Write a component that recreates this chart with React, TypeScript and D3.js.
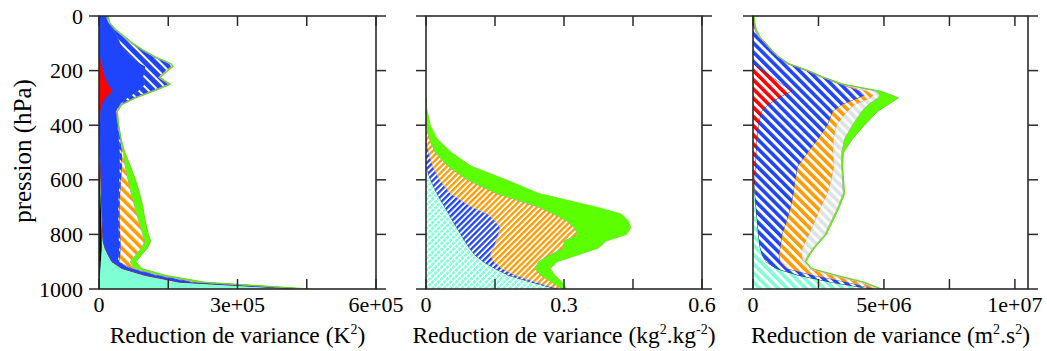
import React from "react";
import * as d3 from "d3";

const W = 1047;
const H = 351;

// ---- panel 1 : temperature (values in 1e5 K2, cumulative outer edge of each layer)
const presT = [0, 25, 50, 75, 100, 125, 150, 175, 185, 200, 225, 250, 275, 300, 325, 350, 400, 450, 500, 550, 600, 650, 700, 750, 800, 825, 850, 875, 900, 925, 950, 975, 1000];
const tBlack = [0, 0, 0, 0, 0, 0, 0, 0, 0, 0, 0, 0, 0, 0, 0, 0, 0, 0, 0, 0.01, 0.02, 0.03, 0.04, 0.05, 0.06, 0.06, 0.06, 0.05, 0.04, 0.03, 0.02, 0.01, 0];
const tCyan = [0, 0, 0, 0, 0, 0, 0, 0, 0, 0, 0, 0, 0, 0, 0, 0, 0, 0.01, 0.02, 0.03, 0.04, 0.05, 0.06, 0.07, 0.08, 0.09, 0.13, 0.2, 0.28, 0.5, 1.0, 1.75, 4.35];
const tRed = [0, 0, 0, 0, 0, 0, 0.02, 0.05, 0.07, 0.09, 0.13, 0.2, 0.3, 0.15, 0.06, 0.03, 0.02, 0.02, 0.02, 0.03, 0.04, 0.05, 0.06, 0.07, 0.08, 0.09, 0.13, 0.2, 0.28, 0.5, 1.0, 1.75, 4.35];
const tBlueSolid = [0.15, 0.2, 0.3, 0.4, 0.46, 0.55, 0.7, 0.9, 1.0, 1.0, 0.95, 1.0, 0.85, 0.62, 0.44, 0.37, 0.4, 0.43, 0.45, 0.45, 0.44, 0.43, 0.42, 0.42, 0.43, 0.43, 0.44, 0.43, 0.41, 0.68, 1.22, 2.0, 4.42];
const tBlueHatch = [0.17, 0.21, 0.34, 0.52, 0.7, 0.93, 1.19, 1.52, 1.56, 1.45, 1.28, 1.5, 1.14, 0.75, 0.46, 0.37, 0.41, 0.46, 0.5, 0.5, 0.48, 0.46, 0.45, 0.45, 0.46, 0.47, 0.47, 0.46, 0.44, 0.72, 1.28, 2.08, 4.46];
const tOrange = [0.185, 0.225, 0.355, 0.54, 0.72, 0.95, 1.21, 1.55, 1.59, 1.48, 1.31, 1.53, 1.17, 0.78, 0.48, 0.39, 0.42, 0.47, 0.53, 0.57, 0.63, 0.7, 0.78, 0.86, 0.95, 1.0, 0.92, 0.8, 0.68, 0.77, 1.34, 2.16, 4.5];
const tGreen = [0.2, 0.24, 0.37, 0.56, 0.74, 0.97, 1.23, 1.57, 1.61, 1.5, 1.33, 1.55, 1.2, 0.8, 0.5, 0.4, 0.43, 0.48, 0.56, 0.68, 0.79, 0.88, 0.95, 1.0, 1.07, 1.12, 1.05, 0.92, 0.8, 0.92, 1.45, 2.3, 4.6];

// ---- panel 2 : humidity (kg2.kg-2)
const presQ = [300, 325, 350, 400, 450, 500, 550, 600, 650, 700, 725, 750, 775, 800, 825, 850, 875, 900, 925, 950, 975, 1000];
const qCyan = [0, 0, 0, 0, 0, 0, 0, 0.01, 0.024, 0.041, 0.05, 0.058, 0.067, 0.076, 0.085, 0.095, 0.106, 0.125, 0.15, 0.18, 0.23, 0.285];
const qBlue = [0, 0, 0, 0, 0, 0.006, 0.015, 0.03, 0.053, 0.1, 0.134, 0.15, 0.161, 0.158, 0.153, 0.147, 0.14, 0.148, 0.165, 0.195, 0.24, 0.29];
const qOrange = [0, 0, 0, 0, 0.008, 0.02, 0.048, 0.09, 0.153, 0.245, 0.277, 0.306, 0.322, 0.33, 0.3, 0.3, 0.27, 0.245, 0.237, 0.25, 0.273, 0.298];
const qGreen = [0, 0, 0.003, 0.009, 0.024, 0.055, 0.098, 0.174, 0.245, 0.37, 0.424, 0.44, 0.445, 0.436, 0.39, 0.375, 0.33, 0.285, 0.27, 0.28, 0.296, 0.306];

// ---- panel 3 : wind (values in 1e6 m2.s2)
const presW = [0, 25, 50, 75, 100, 125, 150, 175, 200, 225, 250, 275, 290, 300, 325, 350, 400, 450, 500, 550, 600, 650, 700, 750, 800, 850, 875, 900, 925, 950, 975, 1000];
const wCyan = [0, 0, 0, 0, 0, 0, 0, 0, 0, 0, 0, 0, 0, 0, 0, 0, 0, 0, 0, 0, 0.03, 0.07, 0.12, 0.17, 0.21, 0.28, 0.36, 0.5, 0.9, 1.75, 3.0, 4.55];
const wRed = [0, 0, 0, 0, 0, 0, 0, 0.02, 0.38, 0.75, 1.12, 1.5, 1.2, 1.0, 0.6, 0.33, 0.22, 0.16, 0.13, 0.1, 0.08, 0.08, 0.12, 0.17, 0.21, 0.28, 0.36, 0.5, 0.9, 1.75, 3.0, 4.55];
const wBlue = [0, 0.03, 0.08, 0.2, 0.45, 0.68, 0.95, 1.33, 2.05, 2.65, 3.35, 4.1, 4.27, 4.05, 3.4, 3.05, 2.85, 2.5, 2.1, 1.72, 1.62, 1.55, 1.45, 1.3, 1.12, 1.05, 1.0, 1.05, 1.3, 2.3, 3.6, 4.65];
const wOrange = [0.02, 0.05, 0.1, 0.22, 0.47, 0.7, 0.97, 1.36, 2.08, 2.68, 3.4, 4.35, 4.6, 4.5, 3.9, 3.6, 3.2, 3.08, 3.06, 3.1, 3.0, 2.85, 2.6, 2.38, 2.15, 1.9, 1.86, 1.93, 2.1, 3.0, 4.1, 4.8];
const wGrey = [0.03, 0.06, 0.11, 0.24, 0.49, 0.71, 0.99, 1.37, 2.1, 2.7, 3.43, 4.7, 4.85, 4.78, 4.4, 4.15, 3.8, 3.5, 3.39, 3.39, 3.42, 3.45, 3.25, 3.0, 2.75, 2.3, 2.12, 1.98, 2.2, 3.15, 4.2, 4.88];
const wGreen = [0.04, 0.07, 0.13, 0.26, 0.5, 0.72, 1.0, 1.38, 2.12, 2.72, 3.47, 4.85, 5.3, 5.55, 5.15, 4.75, 4.25, 3.8, 3.45, 3.42, 3.46, 3.5, 3.3, 3.05, 2.8, 2.35, 2.17, 2.02, 2.25, 3.2, 4.25, 4.92];

// axes
const presTicks = [0, 200, 400, 600, 800, 1000];
const ticksT = [0, 1.5e5, 3e5, 4.5e5, 6e5];
const labelsT = ["0", "", "3e+05", "", "6e+05"];
const ticksQ = [0, 0.15, 0.3, 0.45, 0.6];
const labelsQ = ["0", "", "0.3", "", "0.6"];
const ticksW = [0, 2.5e6, 5e6, 7.5e6, 1e7];
const labelsW = ["0", "", "5e+06", "", "1e+07"];

// title pieces: [text, superscript]
const titleT: [string, string][] = [["Reduction de variance (K", "2"], [")", ""]];
const titleQ: [string, string][] = [["Reduction de variance (kg", "2"], [".kg", "-2"], [")", ""]];
const titleW: [string, string][] = [["Reduction de variance (m", "2"], [".s", "2"], [")", ""]];

const BLUE = "#1f45fc";
const ORANGE = "#ff9a00";
const GREEN = "#5cff00";
const CYAN = "#7fffd4";
const RED = "#ff0000";
const GREY = "#dde2e2";
const serif = { fontFamily: "Liberation Serif" };

const y = d3.scaleLinear().domain([0, 1000]).range([16, 289]);

type Layer = { data: number[]; fill: string; stroke: string };
type Panel = {
  id: string;
  range: [number, number];
  max: number;
  unit: number;
  pres: number[];
  ticks: number[];
  labels: string[];
  layers: Layer[];
  title: [string, string][];
};

const panels: Panel[] = [
  {
    id: "t",
    range: [99, 376],
    max: 6e5,
    unit: 1e5,
    pres: presT,
    ticks: ticksT,
    labels: labelsT,
    layers: [
      { data: tBlack, fill: "#000", stroke: "#000" },
      { data: tCyan, fill: CYAN, stroke: "#5fd8b8" },
      { data: tRed, fill: RED, stroke: "#c00000" },
      { data: tBlueSolid, fill: BLUE, stroke: BLUE },
      { data: tBlueHatch, fill: "url(#t-blue)", stroke: "#3050ff" },
      { data: tOrange, fill: "url(#t-orange)", stroke: "#a98bd8" },
      { data: tGreen, fill: GREEN, stroke: "#58e000" },
    ],
    title: titleT,
  },
  {
    id: "q",
    range: [426, 702],
    max: 0.6,
    unit: 1,
    pres: presQ,
    ticks: ticksQ,
    labels: labelsQ,
    layers: [
      { data: qCyan, fill: "url(#q-cyan)", stroke: "#303040" },
      { data: qBlue, fill: "url(#q-blue)", stroke: "#9a9aff" },
      { data: qOrange, fill: "url(#q-orange)", stroke: "#a090b8" },
      { data: qGreen, fill: GREEN, stroke: GREEN },
    ],
    title: titleQ,
  },
  {
    id: "w",
    range: [753, 1028],
    max: 1.05e7,
    unit: 1e6,
    pres: presW,
    ticks: ticksW,
    labels: labelsW,
    layers: [
      { data: wCyan, fill: "url(#w-cyan)", stroke: "#60e0c0" },
      { data: wRed, fill: "url(#w-red)", stroke: "#202040" },
      { data: wBlue, fill: "url(#w-blue)", stroke: "#2a3fd0" },
      { data: wOrange, fill: "url(#w-orange)", stroke: "#e8a060" },
      { data: wGrey, fill: "url(#w-grey)", stroke: "#b080e0" },
      { data: wGreen, fill: GREEN, stroke: "#58e000" },
    ],
    title: titleW,
  },
];

const Hatch = ({ id, color, size, band, angle, grid }: { id: string; color: string; size: number; band: number; angle: number; grid?: boolean }) => (
  <pattern id={id} patternUnits="userSpaceOnUse" width={size} height={size} patternTransform={`rotate(${angle})`}>
    <rect width={size} height={size} fill="#fff" />
    <rect width={band} height={size} fill={color} />
    {grid && <rect width={size} height={0.8} fill="#fff" />}
  </pattern>
);

const PanelView = ({ p }: { p: Panel }) => {
  const x = d3.scaleLinear().domain([0, p.max]).range(p.range);
  const [x0, x1] = p.range;
  const [yt, yb] = y.range();

  // cumulative, never crossing the layer below
  const cum: number[][] = [];
  p.layers.forEach((l, i) => {
    cum.push(l.data.map((v, j) => (i === 0 ? v : Math.max(v, cum[i - 1][j]))));
  });
  const zero = p.pres.map(() => 0);

  return (
    <g>
      <g clipPath={`url(#clip-${p.id})`}>
        {p.layers.map((l, i) => {
          const prev = i === 0 ? zero : cum[i - 1];
          const area = d3
            .area<number>()
            .y((_, j) => y(p.pres[j]))
            .x0((_, j) => x(prev[j] * p.unit))
            .x1((v) => x(v * p.unit));
          const line = d3
            .line<number>()
            .x((v) => x(v * p.unit))
            .y((_, j) => y(p.pres[j]));
          return (
            <g key={i}>
              <path d={area(cum[i]) || ""} fill={l.fill} />
              <path d={line(cum[i]) || ""} fill="none" stroke={l.stroke} strokeWidth={0.9} />
            </g>
          );
        })}
      </g>
      <rect x={x0} y={yt} width={x1 - x0} height={yb - yt} fill="none" stroke="#2a2a2a" strokeWidth={1.6} />
      {presTicks.map((t) => (
        <g key={t}>
          <line x1={x0 - 10} x2={x0} y1={y(t)} y2={y(t)} stroke="#2a2a2a" strokeWidth={1.5} />
          <line x1={x1} x2={x1 + 10} y1={y(t)} y2={y(t)} stroke="#2a2a2a" strokeWidth={1.5} />
        </g>
      ))}
      {p.ticks.map((t, i) => (
        <g key={i}>
          <line x1={x(t)} x2={x(t)} y1={yb} y2={yb - 10} stroke="#2a2a2a" strokeWidth={1.5} />
          <line x1={x(t)} x2={x(t)} y1={yt} y2={yt + 10} stroke="#2a2a2a" strokeWidth={1.5} />
          {p.labels[i] && (
            <text x={x(t)} y={312} textAnchor="middle" fontSize={22} style={serif}>
              {p.labels[i]}
            </text>
          )}
        </g>
      ))}
      <text x={(x0 + x1) / 2} y={343} textAnchor="middle" fontSize={23.5} style={serif}>
        {p.title.map(([s, e], k) => (
          <React.Fragment key={k}>
            <tspan dy={k === 0 ? 0 : 9}>{s}</tspan>
            {e && (
              <tspan dy={-9} fontSize={14}>
                {e}
              </tspan>
            )}
          </React.Fragment>
        ))}
      </text>
    </g>
  );
};

export default function App() {
  return (
    <svg width={W} height={H} style={{ position: "absolute", left: 0, top: 0, background: "#fff" }}>
      <defs>
        <Hatch id="t-blue" color={BLUE} size={7} band={5} angle={-45} />
        <Hatch id="t-orange" color={ORANGE} size={7} band={3.6} angle={-45} />
        <Hatch id="q-cyan" color={CYAN} size={4.2} band={2.6} angle={45} grid />
        <Hatch id="q-blue" color={BLUE} size={4.2} band={2.3} angle={45} />
        <Hatch id="q-orange" color={ORANGE} size={4.2} band={2.3} angle={45} />
        <Hatch id="w-cyan" color={CYAN} size={6.5} band={3.6} angle={-45} />
        <Hatch id="w-red" color={RED} size={6.5} band={3.6} angle={-45} />
        <Hatch id="w-blue" color={BLUE} size={6.5} band={3.6} angle={-45} />
        <Hatch id="w-orange" color={ORANGE} size={6.5} band={3.6} angle={-45} />
        <Hatch id="w-grey" color={GREY} size={6.5} band={3.6} angle={-45} />
        {panels.map((p) => (
          <clipPath key={p.id} id={`clip-${p.id}`}>
            <rect x={p.range[0]} y={16} width={p.range[1] - p.range[0]} height={273} />
          </clipPath>
        ))}
      </defs>
      {panels.map((p) => (
        <PanelView key={p.id} p={p} />
      ))}
      {presTicks.map((t) => (
        <text key={t} x={83} y={y(t)} textAnchor="end" dominantBaseline="central" fontSize={22} style={serif}>
          {t}
        </text>
      ))}
      <text
        transform="translate(22,151) rotate(-90)"
        textAnchor="middle"
        dominantBaseline="central"
        fontSize={25}
        style={serif}
      >
        pression (hPa)
      </text>
    </svg>
  );
}
